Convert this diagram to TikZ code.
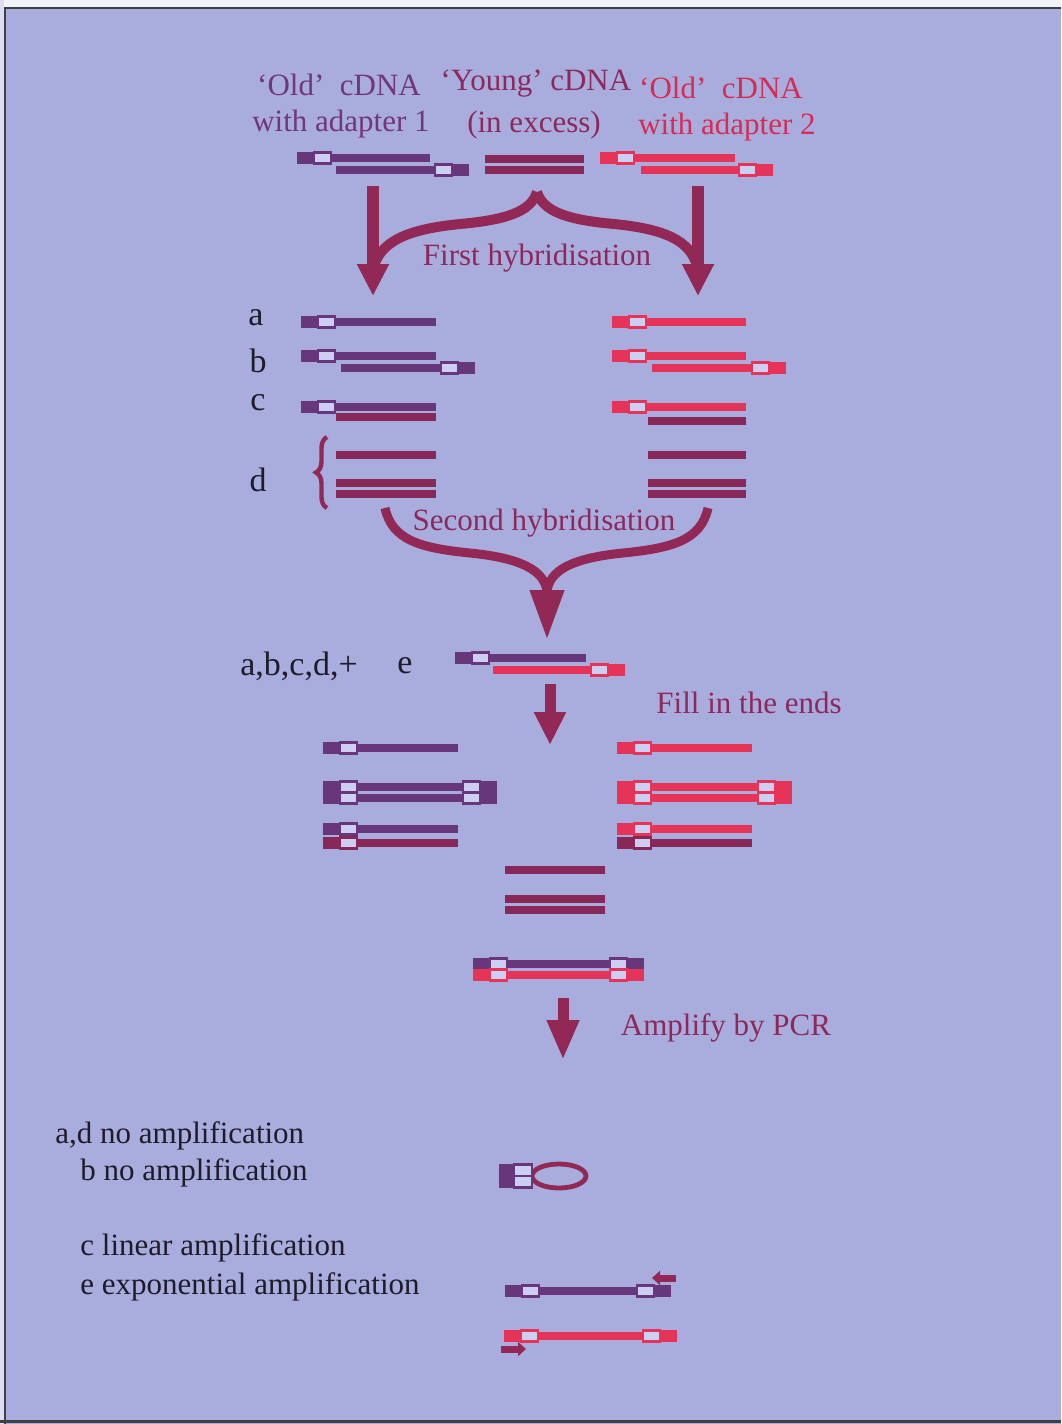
\documentclass[tikz,border=0pt]{standalone}
\usepackage{fontspec}
\setmainfont{Liberation Serif}
\usepackage{tikz}
\usetikzlibrary{arrows.meta}
\usetikzlibrary{decorations.pathreplacing}

\definecolor{bgc}{RGB}{169,173,222}
\definecolor{boxc}{RGB}{204,207,242}
\definecolor{purp}{RGB}{104,54,122}
\definecolor{maro}{RGB}{136,40,88}
\definecolor{redc}{RGB}{230,52,88}
\definecolor{arrowc}{RGB}{145,40,86}
\definecolor{txtpurp}{RGB}{114,54,124}
\definecolor{txtmaro}{RGB}{140,40,90}
\definecolor{txtred}{RGB}{214,44,84}
\definecolor{txtblk}{RGB}{30,28,40}

% plain strand: from x #1 to x #2 at height #3
\newcommand{\strnd}[4]{\fill[#4] (#1,#3-4) rectangle (#2,#3+4);}
% adapter at the left end, starting at x #1
\newcommand{\adL}[3]{\fill[#3] (#1,#2-6) rectangle (#1+17,#2+6);
  \draw[#3, fill=boxc, line width=1.1pt] (#1+17,#2-5.5) rectangle (#1+34,#2+5.5);}
% adapter at the right end, ending at x #1
\newcommand{\adR}[3]{\fill[#3] (#1-17,#2-6) rectangle (#1,#2+6);
  \draw[#3, fill=boxc, line width=1.1pt] (#1-34,#2-5.5) rectangle (#1-17,#2+5.5);}

\tikzset{
  lbl/.style={font=\fontsize{15.5}{18}\selectfont, inner sep=0pt},
  rowlbl/.style={font=\fontsize{17}{20}\selectfont, inner sep=0pt, text=txtblk},
  bigarrow/.style={draw=arrowc, line width=6pt, -{Triangle[width=15pt,length=16pt]}},
  curl/.style={draw=arrowc, line width=5pt},
  primer/.style={draw=arrowc, line width=3.5pt, -{Triangle[width=7pt,length=4pt]}}
}

\begin{document}
\begin{tikzpicture}[x=0.5pt,y=-0.5pt]
\useasboundingbox (0,0) rectangle (1061,1424);
\fill[bgc] (0,0) rectangle (1061,1424);
\fill[white!85!bgc] (0,0) rectangle (1061,7);
\fill[white!60!bgc] (0,0) rectangle (4,1424);
\draw[black!75, line width=1.2pt] (5,1424) -- (5,8) -- (1061,8);
\draw[black!75, line width=1.5pt] (0,1421) -- (1061,1421);

% starting material
\node[lbl, text=txtpurp] (oldA) at (339,85) {`Old'\ \ cDNA};
\node[lbl, text=txtmaro] (young) at (536,84) {`Young' cDNA};
\node[lbl, text=txtred] (oldB) at (721,88) {`Old'\ \ cDNA};
\node[lbl, text=txtpurp] (withA) at (341,124) {with adapter 1};
\node[lbl, text=txtmaro] (excess) at (534,125) {(in excess)};
\node[lbl, text=txtred] (withB) at (727,127) {with adapter 2};

\adL{297}{158}{purp} \strnd{331}{430}{158}{purp}
\strnd{336}{436}{170}{purp} \adR{469}{170}{purp}

\strnd{485}{584}{159}{maro}
\strnd{485}{584}{170}{maro}

\adL{600}{158}{redc} \strnd{634}{735}{158}{redc}
\strnd{641}{740}{170}{redc} \adR{773}{170}{redc}

% first hybridisation
\coordinate (h1l) at (373,186);
\coordinate (h1la) at (373,296);
\coordinate (h1r) at (698,186);
\coordinate (h1ra) at (698,296);
\coordinate (h1p) at (537,192);
\draw[bigarrow] (h1l) -- (h1la);
\draw[bigarrow] (h1r) -- (h1ra);
\draw[curl] (h1p) .. controls (531,212) and (505,220) .. (460,224)
  .. controls (410,229) and (382,240) .. (374,266);
\draw[curl] (h1p) .. controls (543,212) and (569,220) .. (614,224)
  .. controls (664,229) and (690,240) .. (697,266);
\node[lbl, text=txtmaro] (first) at (537,258) {First hybridisation};

\node[rowlbl] (la) at (256,318) {a};
\node[rowlbl] (lb) at (258,361) {b};
\node[rowlbl] (lc) at (258,403) {c};
\node[rowlbl] (ld) at (258,480) {d};

% a
\adL{301}{322}{purp} \strnd{335}{436}{322}{purp}
\adL{612}{322}{redc} \strnd{646}{746}{322}{redc}
% b
\adL{301}{356}{purp} \strnd{335}{436}{356}{purp}
\strnd{341}{441}{368}{purp} \adR{475}{368}{purp}
\adL{612}{356}{redc} \strnd{646}{746}{356}{redc}
\strnd{652}{752}{368}{redc} \adR{786}{368}{redc}
% c
\adL{301}{407}{purp} \strnd{335}{436}{407}{purp}
\strnd{336}{436}{417}{maro}
\adL{612}{407}{redc} \strnd{646}{746}{407}{redc}
\strnd{648}{746}{421}{maro}
% d
\strnd{336}{436}{455}{maro}
\strnd{336}{436}{483}{maro}
\strnd{336}{436}{494}{maro}
\strnd{648}{746}{455}{maro}
\strnd{648}{746}{483}{maro}
\strnd{648}{746}{494}{maro}
\draw[arrowc, line width=2.2pt, decorate,
  decoration={brace, amplitude=5.5pt}] (327,508) -- (327,437);

% second hybridisation
\coordinate (h2l) at (385,508);
\coordinate (h2r) at (708,508);
\coordinate (h2m) at (547,592);
\draw[draw=arrowc, line width=4.5pt] (h2l) .. controls (392,540) and (420,548) .. (470,553)
  .. controls (520,558) and (545,570) .. (h2m);
\draw[draw=arrowc, line width=4.5pt] (h2r) .. controls (701,540) and (673,548) .. (623,553)
  .. controls (573,558) and (549,570) .. (h2m);
\draw[bigarrow, line width=5pt, -{Triangle[width=16pt,length=25pt]}] (547,585) -- (547,640);
\node[lbl, text=txtmaro] (second) at (544,523) {Second hybridisation};

\node[rowlbl] (labcd) at (299,666) {a,b,c,d,+};
\node[rowlbl] (le) at (405,666) {e};
\adL{455}{658}{purp} \strnd{489}{586}{658}{purp}
\strnd{493}{592}{670}{redc} \adR{625}{670}{redc}

% fill in the ends
\draw[bigarrow, line width=5.5pt, -{Triangle[width=15pt,length=16.5pt]}] (550,684) -- (550,745);
\node[lbl, text=txtmaro] (fill) at (749,703) {Fill in the ends};

\adL{323}{748}{purp} \strnd{357}{458}{748}{purp}
\adL{323}{787}{purp} \strnd{357}{463}{787}{purp} \adR{497}{787}{purp}
\adL{323}{798}{purp} \strnd{357}{463}{798}{purp} \adR{497}{798}{purp}
\adL{323}{829}{purp} \strnd{357}{458}{829}{purp}
\adL{323}{843}{maro} \strnd{357}{458}{843}{maro}

\adL{617}{748}{redc} \strnd{651}{752}{748}{redc}
\adL{617}{787}{redc} \strnd{651}{758}{787}{redc} \adR{792}{787}{redc}
\adL{617}{798}{redc} \strnd{651}{758}{798}{redc} \adR{792}{798}{redc}
\adL{617}{829}{redc} \strnd{651}{752}{829}{redc}
\adL{617}{843}{maro} \strnd{651}{752}{843}{maro}

\strnd{505}{605}{870}{maro}
\strnd{505}{605}{899}{maro}
\strnd{505}{605}{910}{maro}

\adL{473}{964}{purp} \strnd{507}{610}{964}{purp} \adR{644}{964}{purp}
\adL{473}{975}{redc} \strnd{507}{610}{975}{redc} \adR{644}{975}{redc}

% amplify
\draw[bigarrow, line width=5.5pt, -{Triangle[width=15pt,length=20pt]}] (563,998) -- (563,1060);
\node[lbl, text=txtmaro] (pcr) at (726,1028) {Amplify by PCR};

\node[lbl, text=txtblk, anchor=west] (resad) at (55,1136) {a,d no amplification};
\node[lbl, text=txtblk, anchor=west] (resb) at (80,1173) {b no amplification};
\node[lbl, text=txtblk, anchor=west] (resc) at (80,1248) {c linear amplification};
\node[lbl, text=txtblk, anchor=west] (rese) at (80,1287) {e exponential amplification};

% pan-handle
\draw[arrowc, line width=2.4pt] (559,1176) ellipse [x radius=27, y radius=12];
\fill[purp] (499,1164) rectangle (514,1188);
\draw[purp, fill=boxc, line width=1.1pt] (514,1164.5) rectangle (532,1176);
\draw[purp, fill=boxc, line width=1.1pt] (514,1176) rectangle (532,1187.5);

% exponential product with primers
\adL{505}{1291}{purp} \strnd{539}{640}{1291}{purp} \adR{671}{1291}{purp}
\coordinate (p1s) at (676,1278);
\coordinate (p1e) at (652,1278);
\draw[primer] (p1s) -- (p1e);
\adL{504}{1336}{redc} \strnd{538}{642}{1336}{redc} \adR{677}{1336}{redc}
\coordinate (p2s) at (501,1349);
\coordinate (p2e) at (526,1349);
\draw[primer] (p2s) -- (p2e);
\end{tikzpicture}
\end{document}
